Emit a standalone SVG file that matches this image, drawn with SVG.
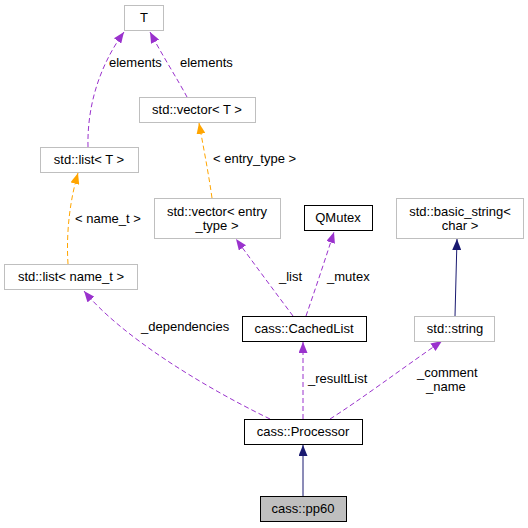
<svg xmlns="http://www.w3.org/2000/svg" width="528" height="528" viewBox="0 0 528 528">
<style>
text{font-family:"Liberation Sans",Arial,sans-serif;font-size:13px;fill:#000}
.n text{text-anchor:middle}
.ext{fill:#fff;stroke:#bfbfbf;stroke-width:1}
.doc{fill:#fff;stroke:#000;stroke-width:1}
.cur{fill:#bfbfbf;stroke:#000;stroke-width:1}
.p{fill:none;stroke:#9a32cd;stroke-dasharray:5,3}
.o{fill:none;stroke:#ffa500;stroke-dasharray:5,3}
.b{fill:none;stroke:#191970}
</style>
<defs>
<marker id="mp" markerWidth="11" markerHeight="9" refX="11" refY="4.5" orient="auto" markerUnits="userSpaceOnUse"><path d="M0,0 L11,4.5 L0,9 Z" fill="#9a32cd"/></marker>
<marker id="mo" markerWidth="11" markerHeight="9" refX="11" refY="4.5" orient="auto" markerUnits="userSpaceOnUse"><path d="M0,0 L11,4.5 L0,9 Z" fill="#ffa500"/></marker>
<marker id="mb" markerWidth="11" markerHeight="9" refX="11" refY="4.5" orient="auto" markerUnits="userSpaceOnUse"><path d="M0,0 L11,4.5 L0,9 Z" fill="#191970"/></marker>
</defs>
<rect width="528" height="528" fill="#fff"/>
<g id="edges">
<path class="p" d="M88,147 C87,105 100,65 124,32" marker-end="url(#mp)"/>
<text x="109" y="67">elements</text>
<path class="p" d="M187,97 C178,80 162,55 150,32" marker-end="url(#mp)"/>
<text x="180" y="67">elements</text>
<path class="o" d="M212,198 C208,170 203,145 199,123" marker-end="url(#mo)"/>
<text x="213" y="163">&lt; entry_type &gt;</text>
<path class="o" d="M68,264 C66,232 70,200 78,173" marker-end="url(#mo)"/>
<text x="75" y="223">&lt; name_t &gt;</text>
<path class="p" d="M270,419 C200,385 120,335 84,291" marker-end="url(#mp)"/>
<text x="141" y="331">_dependencies</text>
<path class="p" d="M293,316 C275,292 255,265 236,239" marker-end="url(#mp)"/>
<text x="279" y="281">_list</text>
<path class="p" d="M306,316 C315,290 325,260 334,232" marker-end="url(#mp)"/>
<text x="327" y="281">_mutex</text>
<path class="p" d="M303,419 L303,342" marker-end="url(#mp)"/>
<text x="308" y="383">_resultList</text>
<path class="p" d="M330,419 C360,400 400,370 442,341" marker-end="url(#mp)"/>
<text x="417" y="377">_comment</text>
<text x="426" y="391">_name</text>
<path class="b" d="M455,316 L457,239" marker-end="url(#mb)"/>
<path class="b" d="M303,496 L303,445" marker-end="url(#mb)"/>
</g>
<g id="T" class="n"><rect class="ext" x="124.5" y="5.5" width="39" height="25"/><text x="144" y="22">T</text></g>
<g id="vectorT" class="n"><rect class="ext" x="139.5" y="97.5" width="116" height="25"/><text x="197" y="114">std::vector&lt; T &gt;</text></g>
<g id="listT" class="n"><rect class="ext" x="40.5" y="147.5" width="98" height="25"/><text x="89" y="164">std::list&lt; T &gt;</text></g>
<g id="vectorEntry" class="n"><rect class="ext" x="154.5" y="198.5" width="126" height="40"/><text x="217" y="216">std::vector&lt; entry</text><text x="217" y="230">_type &gt;</text></g>
<g id="listName" class="n"><rect class="ext" x="4.5" y="264.5" width="133" height="25"/><text x="71" y="281">std::list&lt; name_t &gt;</text></g>
<g id="QMutex" class="n"><rect class="doc" x="304.5" y="205.5" width="68" height="25"/><text x="338" y="222">QMutex</text></g>
<g id="basicString" class="n"><rect class="ext" x="396.5" y="198.5" width="127" height="40"/><text x="460" y="216">std::basic_string&lt;</text><text x="460" y="230">char &gt;</text></g>
<g id="CachedList" class="n"><rect class="doc" x="242.5" y="316.5" width="124" height="25"/><text x="304" y="333">cass::CachedList</text></g>
<g id="string" class="n"><rect class="ext" x="414.5" y="316.5" width="80" height="25"/><text x="455" y="333">std::string</text></g>
<g id="Processor" class="n"><rect class="doc" x="244.5" y="419.5" width="118" height="25"/><text x="303" y="436">cass::Processor</text></g>
<g id="pp60" class="n"><rect class="cur" x="260.5" y="496.5" width="86" height="25"/><text x="303" y="513">cass::pp60</text></g>
</svg>
